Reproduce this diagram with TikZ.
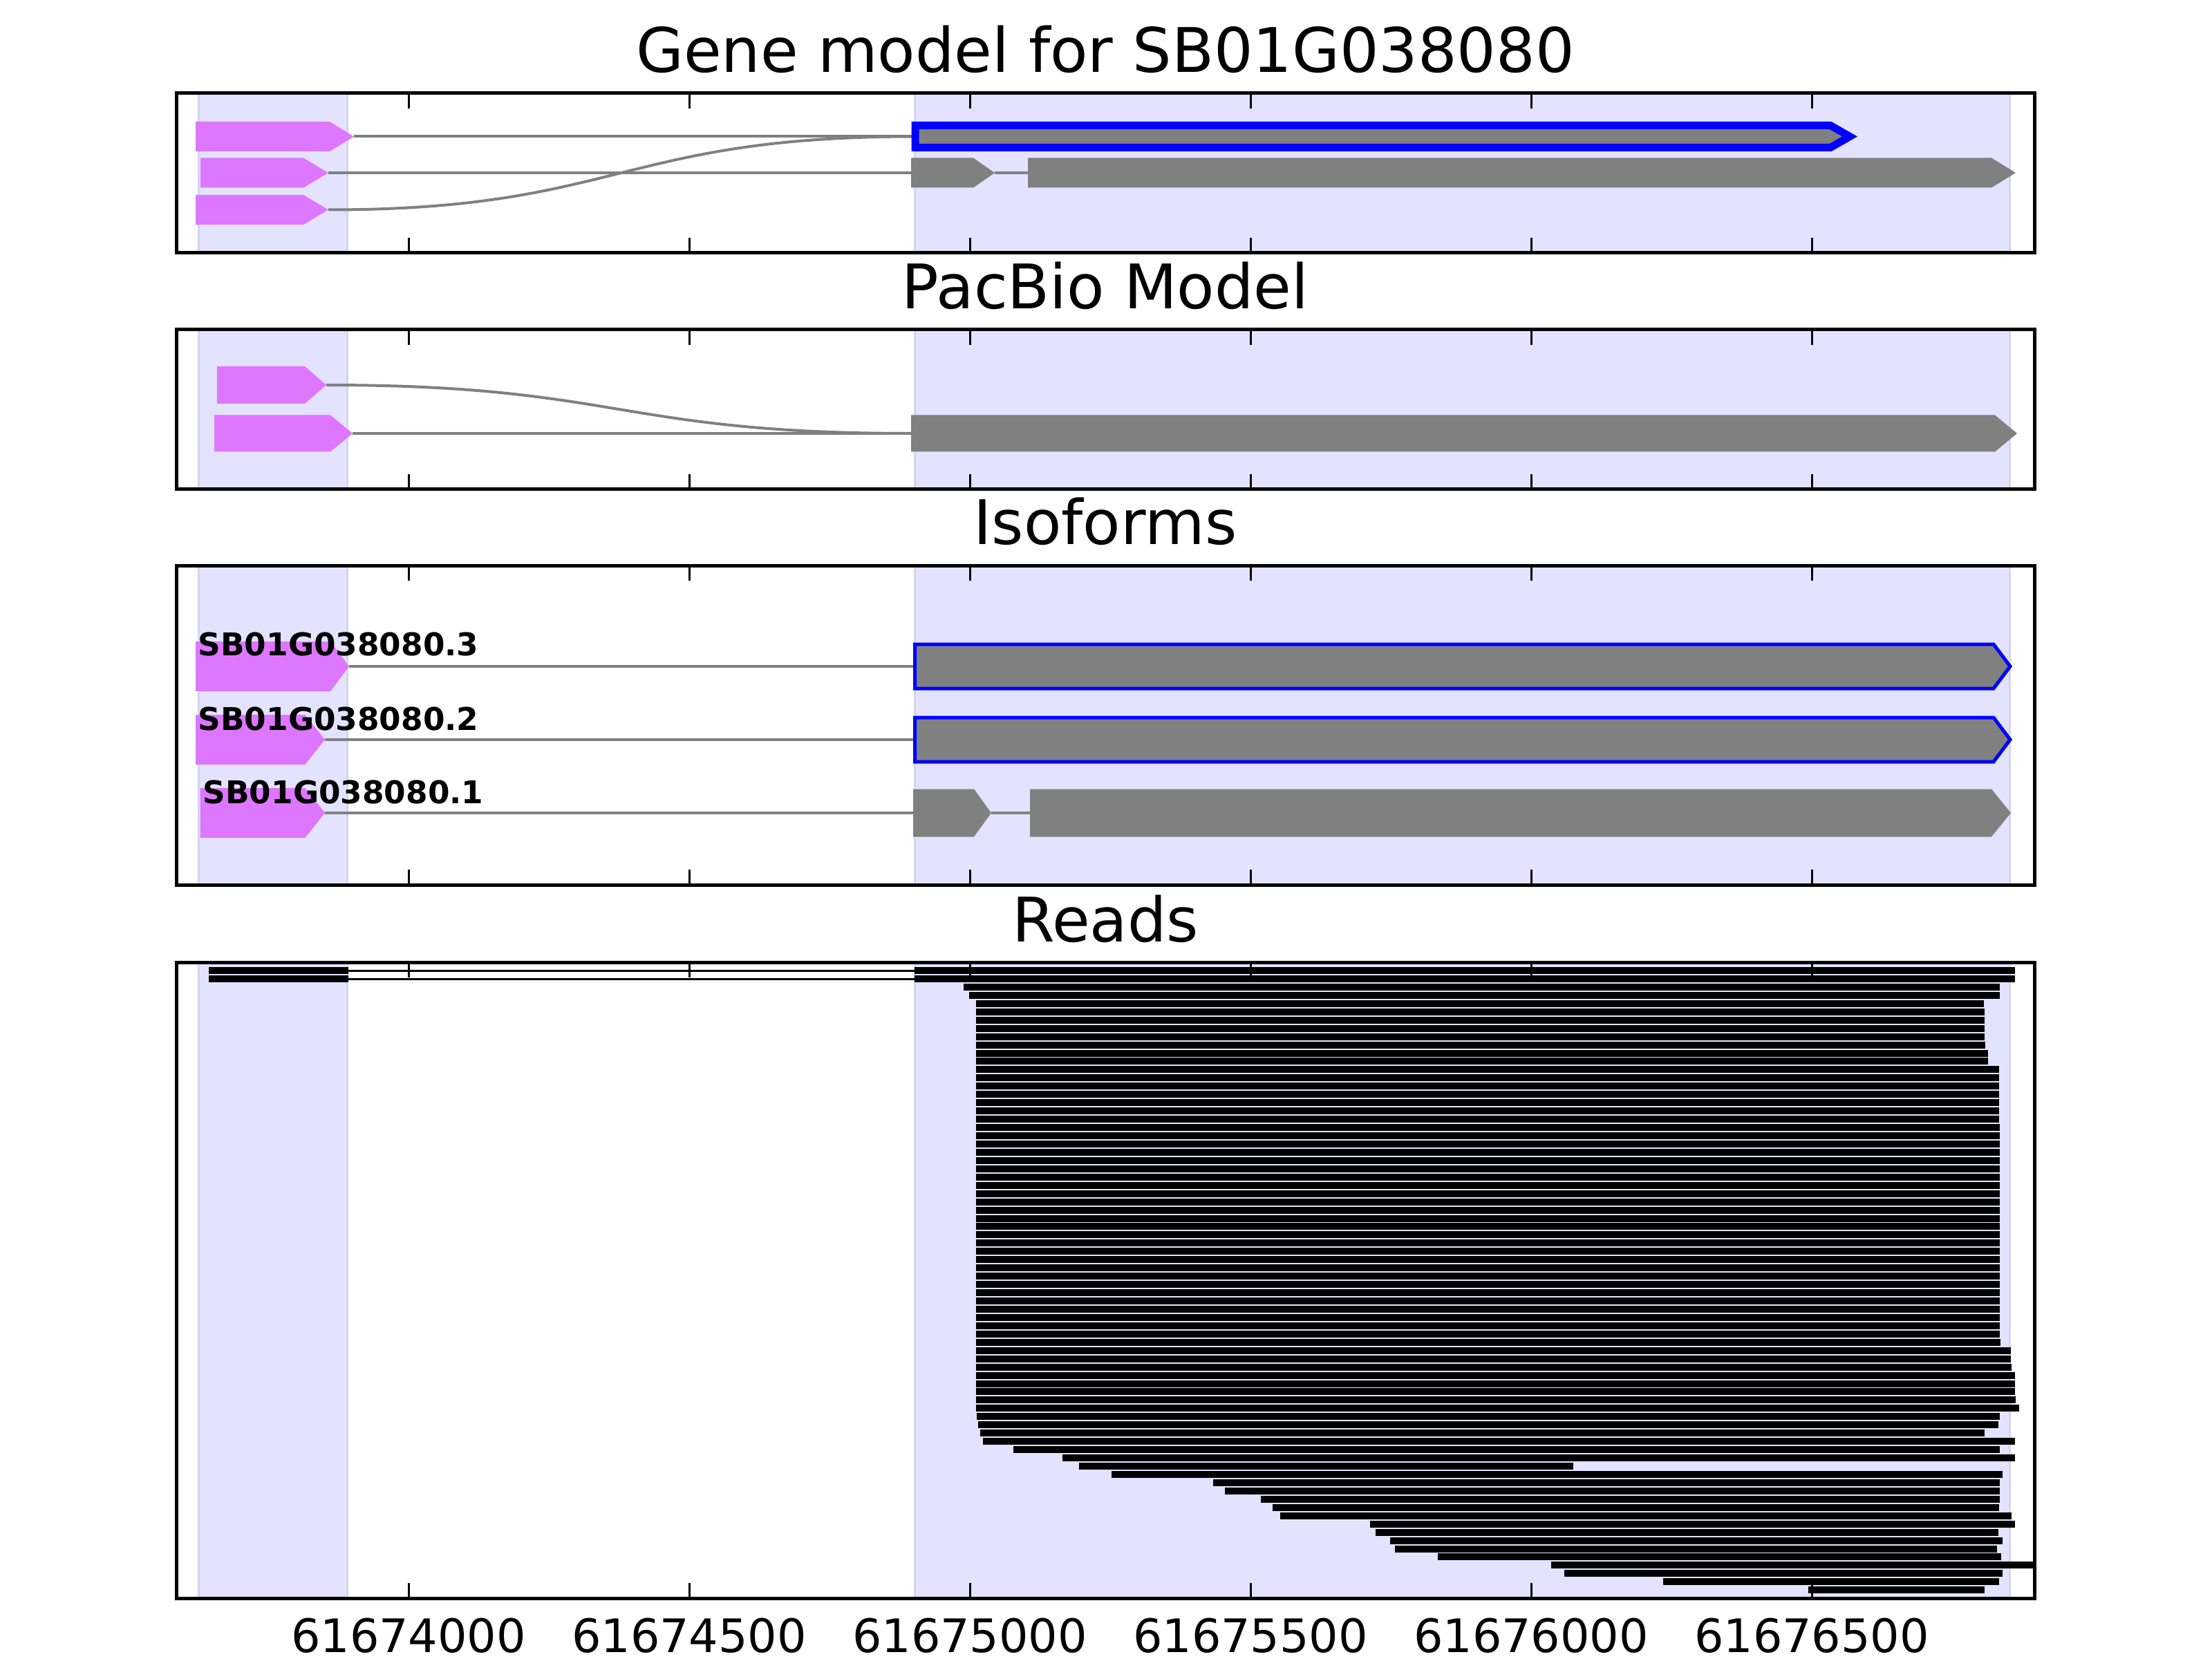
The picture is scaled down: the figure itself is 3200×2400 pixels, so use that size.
\documentclass[tikz,border=0pt]{standalone}
\usepackage{fontspec}
\setmainfont{DejaVu Sans}
\usepackage{tikz}

\definecolor{exonpink}{RGB}{221,119,255}
\definecolor{zoneblue}{RGB}{227,227,255}
\definecolor{zoneedge}{RGB}{212,212,238}
\definecolor{exongray}{RGB}{128,128,128}

\tikzset{
  exonzone/.style={fill=zoneblue, draw=zoneedge, line width=0.3mm},
  axesbox/.style={draw=black, line width=0.5mm},
  pinkexon/.style={fill=exonpink},
  grayexon/.style={fill=exongray},
  bestexon/.style={fill=exongray, draw=blue, line width=1.1mm},
  isoexon/.style={fill=exongray, draw=blue, line width=0.5mm},
  intron/.style={draw=exongray, line width=0.4mm},
  readbar/.style={draw=black, line width=1mm},
  readgap/.style={draw=black, line width=0.3mm},
  tickmark/.style={draw=black, line width=0.3mm},
  paneltitle/.style={anchor=base, inner sep=0pt, font=\fontsize{25.3}{30}\selectfont},
  ticklabel/.style={anchor=north, inner sep=0pt, font=\fontsize{19}{23}\selectfont},
  isolabel/.style={anchor=base west, inner sep=0pt, font=\bfseries\fontsize{12.9}{15}\selectfont},
}

% style, start, shoulder, tip, centre y, half height
\newcommand{\exonarrow}[6]{%
  \path[#1] (#2,#5-#6) -- (#3,#5-#6) -- (#4,#5) -- (#3,#5+#6) -- (#2,#5+#6) -- cycle;}

\begin{document}
\begin{tikzpicture}[x=0.1mm, y=-0.1mm]
    \useasboundingbox (0,0) rectangle (3200,2400);
    \fill[white] (0,0) rectangle (3200,2400);

    \foreach \ya/\yb in {135/366, 477/708, 818/1280, 1392/2312} {
        \path[exonzone] (287,\ya) rectangle (502,\yb);
        \path[exonzone] (1323,\ya) rectangle (2907,\yb);
    }

    % gene model
    \draw[intron] (512,197.5) -- (1324,197.5);
    \draw[intron] (475,250) -- (1318,250);
    \draw[intron] (1439,250) -- (1487,250);
    \draw[intron] (475,303.5) .. controls (896,303.5) and (896,197.5) .. (1324,197.5);
    \exonarrow{pinkexon}{283}{477}{512}{197.5}{21.5}
    \exonarrow{pinkexon}{290}{439}{475}{250}{21.5}
    \exonarrow{pinkexon}{283}{439}{475}{303.5}{21.5}
    \exonarrow{bestexon}{1324}{2648}{2676}{197.5}{16}
    \exonarrow{grayexon}{1318}{1408}{1439}{250}{21.5}
    \exonarrow{grayexon}{1487}{2881}{2916}{250}{21.5}

    % pacbio
    \draw[intron] (472,557) .. controls (895,557) and (895,627) .. (1318,627);
    \draw[intron] (510,627) -- (1318,627);
    \exonarrow{pinkexon}{314}{441}{472}{557}{27}
    \exonarrow{pinkexon}{310}{478}{510}{627}{26.5}
    \exonarrow{grayexon}{1318}{2886}{2918}{627}{26.5}

    % isoforms
    \draw[intron] (505,964) -- (1324,964);
    \draw[intron] (470,1070) -- (1324,1070);
    \draw[intron] (470,1176) -- (1321,1176);
    \draw[intron] (1434,1176) -- (1490,1176);
    \exonarrow{pinkexon}{283}{478}{505}{964}{36}
    \exonarrow{pinkexon}{283}{441.5}{470}{1070}{36}
    \exonarrow{pinkexon}{289.5}{441.5}{470}{1176}{36}
    \exonarrow{isoexon}{1323.5}{2884}{2908}{964}{32}
    \exonarrow{isoexon}{1323.5}{2884}{2908}{1070}{32}
    \exonarrow{grayexon}{1321}{1409}{1434}{1176}{34.5}
    \exonarrow{grayexon}{1490}{2881}{2909}{1176}{34.5}
    \node[isolabel] (iso3) at (286,948) {SB01G038080.3};
    \node[isolabel] (iso2) at (286,1056) {SB01G038080.2};
    \node[isolabel] (iso1) at (293,1162) {SB01G038080.1};

    % reads
    \foreach \ry in {1404,1416} {
        \draw[readbar] (302,\ry) -- (504,\ry);
        \draw[readgap] (504,\ry) -- (1323,\ry);
        \draw[readbar] (1323,\ry) -- (2915,\ry);
    }
    \foreach \ra/\rb [count=\k from 3] in {1394/2893, 1402/2893, 1412/2870, 1412/2871,
        1412/2871, 1412/2871, 1412/2871, 1412/2872, 1412/2876, 1412/2876,
        1412/2892, 1412/2892, 1412/2892, 1412/2892, 1412/2892, 1412/2892, 1412/2892,
        1412/2893, 1412/2893, 1412/2893, 1412/2893, 1412/2893, 1412/2893, 1412/2893,
        1412/2893, 1412/2893, 1412/2893, 1412/2893, 1412/2893, 1412/2893, 1412/2893,
        1412/2893, 1412/2893, 1412/2893, 1412/2893, 1412/2893, 1412/2893, 1412/2893,
        1412/2893, 1412/2893, 1412/2893, 1412/2893, 1412/2893,
        1412/2894, 1412/2909, 1412/2909, 1412/2910, 1412/2915, 1412/2915, 1412/2915,
        1412/2916, 1412/2921, 1413/2893, 1415/2891, 1418/2871, 1422/2915, 1466/2893,
        1537/2915, 1561/2276, 1608/2897, 1755/2893, 1772/2893, 1824/2893, 1841/2892,
        1852/2910, 1982/2915, 1990/2891, 2011/2897, 2018/2889, 2080/2895, 2244/2943,
        2263/2897, 2406/2892, 2616/2871}
        \draw[readbar] (\ra,{1404+(\k-1)*11.95}) -- (\rb,{1404+(\k-1)*11.95});

    \foreach \ya/\yb in {135/366, 477/708, 818/1280, 1392/2312} {
        \draw[axesbox] (255,\ya) rectangle (2943,\yb);
        \foreach \tx in {591,997,1403,1809,2215,2621}
            \draw[tickmark] (\tx,\ya) -- (\tx,\ya+22) (\tx,\yb) -- (\tx,\yb-22);
    }

    \node[paneltitle] (genetitle) at (1599,105) {Gene model for SB01G038080};
    \node[paneltitle] (pacbiotitle) at (1599,447) {PacBio Model};
    \node[paneltitle] (isotitle) at (1599,788) {Isoforms};
    \node[paneltitle] (readstitle) at (1599,1362) {Reads};

    \foreach \tx/\lab in {591/61674000, 997/61674500, 1403/61675000, 1809/61675500, 2215/61676000, 2621/61676500}
        \node[ticklabel] (tick\lab) at (\tx,2340) {\lab};
\end{tikzpicture}
\end{document}
